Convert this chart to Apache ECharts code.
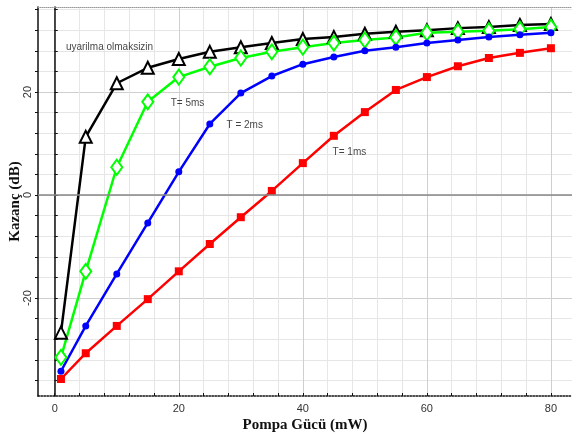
<!DOCTYPE html>
<html>
<head>
<meta charset="utf-8">
<script src="https://cdn.jsdelivr.net/npm/echarts@6/dist/echarts.min.js"></script>
<style>
  html, body { margin: 0; padding: 0; background: #fff; }
  #chart { width: 572px; height: 435px; }
</style>
</head>
<body>
<div id="chart"></div>
<script>
// pump power (mW)
const pumpPower = [1, 5, 10, 15, 20, 25, 30, 35, 40, 45, 50, 55, 60, 65, 70, 75, 80];

// gain (dB) for each curve
const gainNoExcite = [-26.7, 11.3, 21.7, 24.7, 26.4, 27.8, 28.7, 29.5, 30.3, 30.7, 31.3, 31.7, 32.0, 32.4, 32.6, 33.0, 33.2];
const gainT5 = [-31.5, -14.8, 5.4, 18.1, 22.9, 24.9, 26.6, 27.8, 28.7, 29.5, 30.1, 30.6, 31.5, 31.7, 31.9, 32.2, 32.6];
const gainT2 = [-34.2, -25.4, -15.3, -5.4, 4.5, 13.8, 19.8, 23.1, 25.4, 26.8, 28.0, 28.7, 29.5, 30.1, 30.7, 31.1, 31.5];
const gainT1 = [-35.7, -30.7, -25.4, -20.2, -14.8, -9.5, -4.3, 0.8, 6.2, 11.5, 16.1, 20.4, 22.9, 25.0, 26.6, 27.6, 28.5];

// tick values
const xMinorTicks = [0, 4, 8, 12, 16, 20, 24, 28, 32, 36, 40, 44, 48, 52, 56, 60, 64, 68, 72, 76, 80];
const xMajorTicks = [0, 20, 40, 60, 80];
const yMinorTicks = [-36, -32, -28, -24, -20, -16, -12, -8, -4, 0, 4, 8, 12, 16, 20, 24, 28, 32, 36];
const yMajorTicks = [-20, 0, 20];

// annotation labels [x, y, text]
const notes = [
  [1.8, 28.7, 'uyarilma olmaksizin'],
  [18.7, 17.9, 'T= 5ms'],
  [27.7, 13.6, 'T = 2ms'],
  [44.8, 8.3, 'T= 1ms']
];

const X_MIN = -2.7, X_MAX = 83.4, Y_MIN = -39, Y_MAX = 36.5;

const chart = echarts.init(document.getElementById('chart'));

const pairs = arr => pumpPower.map((x, i) => [x, arr[i]]);
const labelFont = { fontFamily: 'Liberation Sans, Arial', fontSize: 11, color: '#333' };
const titleFont = { fontFamily: 'Liberation Serif, Times New Roman', fontSize: 15, fontWeight: 'bold', color: '#111' };

const option = {
  animation: false,
  backgroundColor: '#fff',
  grid: { left: 38, right: 0, top: 7, bottom: 39, containLabel: false, outerBoundsMode: 'none' },
  xAxis: [
    {
      type: 'value', min: X_MIN, max: X_MAX, position: 'bottom',
      name: 'Pompa Gücü (mW)', nameLocation: 'middle', nameGap: 22, nameMoveOverlap: false,
      nameTextStyle: titleFont,
      axisLine: { show: true, onZero: false, lineStyle: { color: '#111', width: 1.5, type: 'dotted' } },
      axisTick: { show: true, inside: true, length: 3, customValues: xMinorTicks, lineStyle: { color: '#111' } },
      axisLabel: { ...labelFont, margin: 7, customValues: xMajorTicks },
      splitLine: { show: true, lineStyle: { color: '#e6e6e6', width: 1 } }
    },
    {
      type: 'value', min: X_MIN, max: X_MAX, position: 'top',
      axisLine: { show: true, onZero: false, lineStyle: { color: '#999', width: 1, type: 'dotted' } },
      axisLabel: { show: false },
      axisTick: { show: false, customValues: xMajorTicks },
      splitLine: { show: true, lineStyle: { color: '#cfcfcf', width: 1 } }
    }
  ],
  yAxis: [
    {
      type: 'value', min: Y_MIN, max: Y_MAX, position: 'left',
      name: 'Kazanç (dB)', nameLocation: 'middle', nameGap: 15, nameRotate: 90, nameMoveOverlap: false,
      nameTextStyle: titleFont,
      axisLine: { show: true, onZero: false, lineStyle: { color: '#111', width: 1.5 } },
      axisTick: { show: true, length: 3, customValues: yMinorTicks, lineStyle: { color: '#111' } },
      axisLabel: { ...labelFont, rotate: 90, margin: 5, customValues: yMajorTicks },
      splitLine: { show: true, lineStyle: { color: '#e6e6e6', width: 1 } }
    },
    {
      type: 'value', min: Y_MIN, max: Y_MAX, position: 'right',
      axisLine: { show: false, onZero: false }, axisLabel: { show: false },
      axisTick: { show: false, customValues: yMajorTicks },
      splitLine: { show: true, lineStyle: { color: '#cfcfcf', width: 1 } }
    },
    {
      // vertical line at x = 0
      type: 'value', min: Y_MIN, max: Y_MAX, position: 'left',
      axisLine: { show: true, onZero: true, onZeroAxisIndex: 0, lineStyle: { color: '#111', width: 1.5 } },
      axisTick: { show: true, length: 3, inside: true, customValues: yMinorTicks, lineStyle: { color: '#111' } },
      axisLabel: { show: false }, splitLine: { show: false }
    }
  ],
  series: [
    {
      // y = 0 line
      type: 'line', data: [], silent: true,
      markLine: {
        silent: true, symbol: 'none', label: { show: false },
        lineStyle: { color: '#888', width: 1.5, type: 'solid' },
        data: [{ yAxis: 0 }]
      }
    },
    {
      name: 'uyarilma olmaksizin', type: 'line', data: pairs(gainNoExcite),
      symbol: 'emptyTriangle', symbolSize: 12,
      lineStyle: { color: '#000', width: 2.5 },
      itemStyle: { color: '#000', borderColor: '#000', borderWidth: 2 }
    },
    {
      name: 'T= 5ms', type: 'line', data: pairs(gainT5),
      symbol: 'emptyDiamond', symbolSize: [11, 15],
      lineStyle: { color: '#00ff00', width: 2.5 },
      itemStyle: { color: '#00ff00', borderColor: '#00ff00', borderWidth: 2 }
    },
    {
      name: 'T = 2ms', type: 'line', data: pairs(gainT2),
      symbol: 'circle', symbolSize: 7,
      lineStyle: { color: '#0000ff', width: 2.5 },
      itemStyle: { color: '#0000ff' }
    },
    {
      name: 'T= 1ms', type: 'line', data: pairs(gainT1),
      symbol: 'rect', symbolSize: 8,
      lineStyle: { color: '#ff0000', width: 2.5 },
      itemStyle: { color: '#ff0000' }
    },
    {
      type: 'scatter', symbolSize: 0, silent: true,
      data: notes.map(n => ({ value: [n[0], n[1]], name: n[2] })),
      label: {
        show: true, position: 'right', distance: 0,
        formatter: p => p.name,
        fontFamily: 'Liberation Sans, Arial', fontSize: 10, color: '#111'
      }
    }
  ]
};

chart.setOption(option);
</script>
</body>
</html>
